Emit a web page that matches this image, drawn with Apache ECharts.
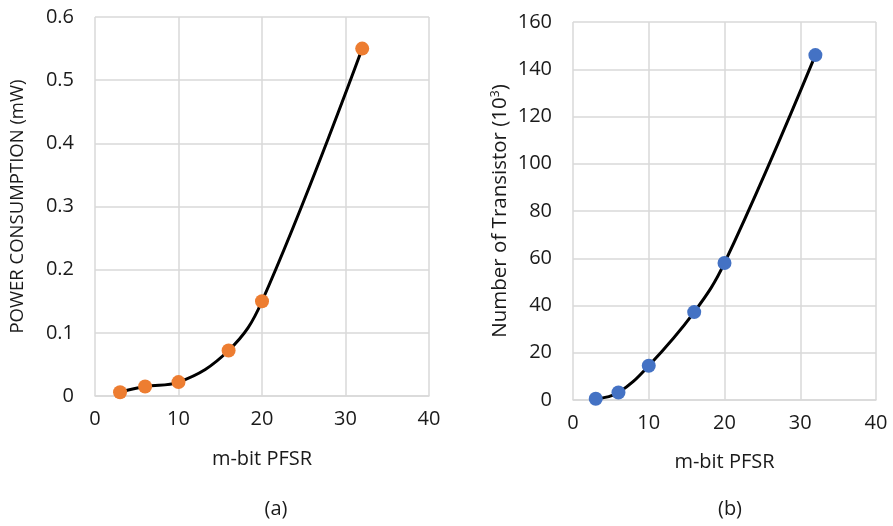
<!DOCTYPE html>
<html>
<head>
<meta charset="utf-8">
<script src="https://cdn.jsdelivr.net/npm/echarts@6/dist/echarts.min.js"></script>
<style>
  html, body { margin: 0; padding: 0; background: #fff; }
  #chart { width: 893px; height: 526px; }
</style>
</head>
<body>
<div id="chart"></div>
<script>
// m-bit PFSR sizes
var bits = [3, 6, 10, 16, 20, 32];
// (a) power consumption, mW
var power = [0.006, 0.015, 0.022, 0.072, 0.15, 0.55];
// (b) number of transistors, x10^3
var transistors = [0.5, 3.2, 14.5, 37.2, 58, 146];

var font = '"Open Sans", "Liberation Sans", sans-serif';
var textColor = '#1a1a1a';
var gridColor = '#d9d9d9';

function pairs(xs, ys) {
    return xs.map(function (x, i) { return [x, ys[i]]; });
}

function xAxisOf(idx, gap) {
    return {
        type: 'value',
        gridIndex: idx,
        min: 0, max: 40, interval: 10,
        name: 'm-bit PFSR',
        nameLocation: 'middle',
        nameGap: gap,
        nameTextStyle: { fontFamily: font, fontSize: 20, color: textColor },
        axisLine: { show: true, lineStyle: { color: gridColor, width: 1.5 } },
        axisTick: { show: false },
        axisLabel: { fontFamily: font, fontSize: 20, color: textColor, margin: 13 },
        splitLine: { show: true, lineStyle: { color: gridColor, width: 1.5 } }
    };
}

var chart = echarts.init(document.getElementById('chart'));
chart.setOption({
    animation: false,
    title: [
        { text: '(a)', left: 271, top: 494, textAlign: 'center',
          textStyle: { fontFamily: font, fontSize: 20, fontWeight: 'normal', color: textColor } },
        { text: '(b)', left: 725, top: 494, textAlign: 'center',
          textStyle: { fontFamily: font, fontSize: 20, fontWeight: 'normal', color: textColor } }
    ],
    grid: [
        { left: 95, right: 464, top: 17, bottom: 130 },
        { left: 573, right: 17, top: 22, bottom: 126 }
    ],
    xAxis: [xAxisOf(0, 53), xAxisOf(1, 52)],
    yAxis: [{
        type: 'value',
        gridIndex: 0,
        min: 0, max: 0.6, interval: 0.1,
        name: 'POWER CONSUMPTION (mW)',
        nameLocation: 'middle',
        nameGap: 68,
        nameTextStyle: { fontFamily: font, fontSize: 18.5, color: textColor },
        axisLine: { show: false },
        axisTick: { show: false },
        axisLabel: { fontFamily: font, fontSize: 20, color: textColor, margin: 21,
            formatter: function (v) { return +v.toFixed(1); } },
        splitLine: { show: true, lineStyle: { color: gridColor, width: 1.5 } }
    }, {
        type: 'value',
        gridIndex: 1,
        min: 0, max: 160, interval: 20,
        name: 'Number of Transistor (10{sup|3})',
        nameLocation: 'middle',
        nameGap: 62,
        nameTextStyle: { fontFamily: font, fontSize: 20.5, color: textColor,
            rich: { sup: { fontFamily: font, fontSize: 12, color: textColor, verticalAlign: 'top', padding: [0, 0, 9, 0] } } },
        axisLine: { show: false },
        axisTick: { show: false },
        axisLabel: { fontFamily: font, fontSize: 20, color: textColor, margin: 21 },
        splitLine: { show: true, lineStyle: { color: gridColor, width: 1.5 } }
    }],
    series: [{
        type: 'line',
        xAxisIndex: 0, yAxisIndex: 0,
        data: pairs(bits, power),
        smooth: 0.4,
        symbol: 'circle',
        symbolSize: 14,
        lineStyle: { color: '#000', width: 3 },
        itemStyle: { color: '#ED7D31' },
        z: 3
    }, {
        type: 'line',
        xAxisIndex: 1, yAxisIndex: 1,
        data: pairs(bits, transistors),
        smooth: 0.4,
        symbol: 'circle',
        symbolSize: 14,
        lineStyle: { color: '#000', width: 3 },
        itemStyle: { color: '#4472C4' },
        z: 3
    }]
});
</script>
</body>
</html>
